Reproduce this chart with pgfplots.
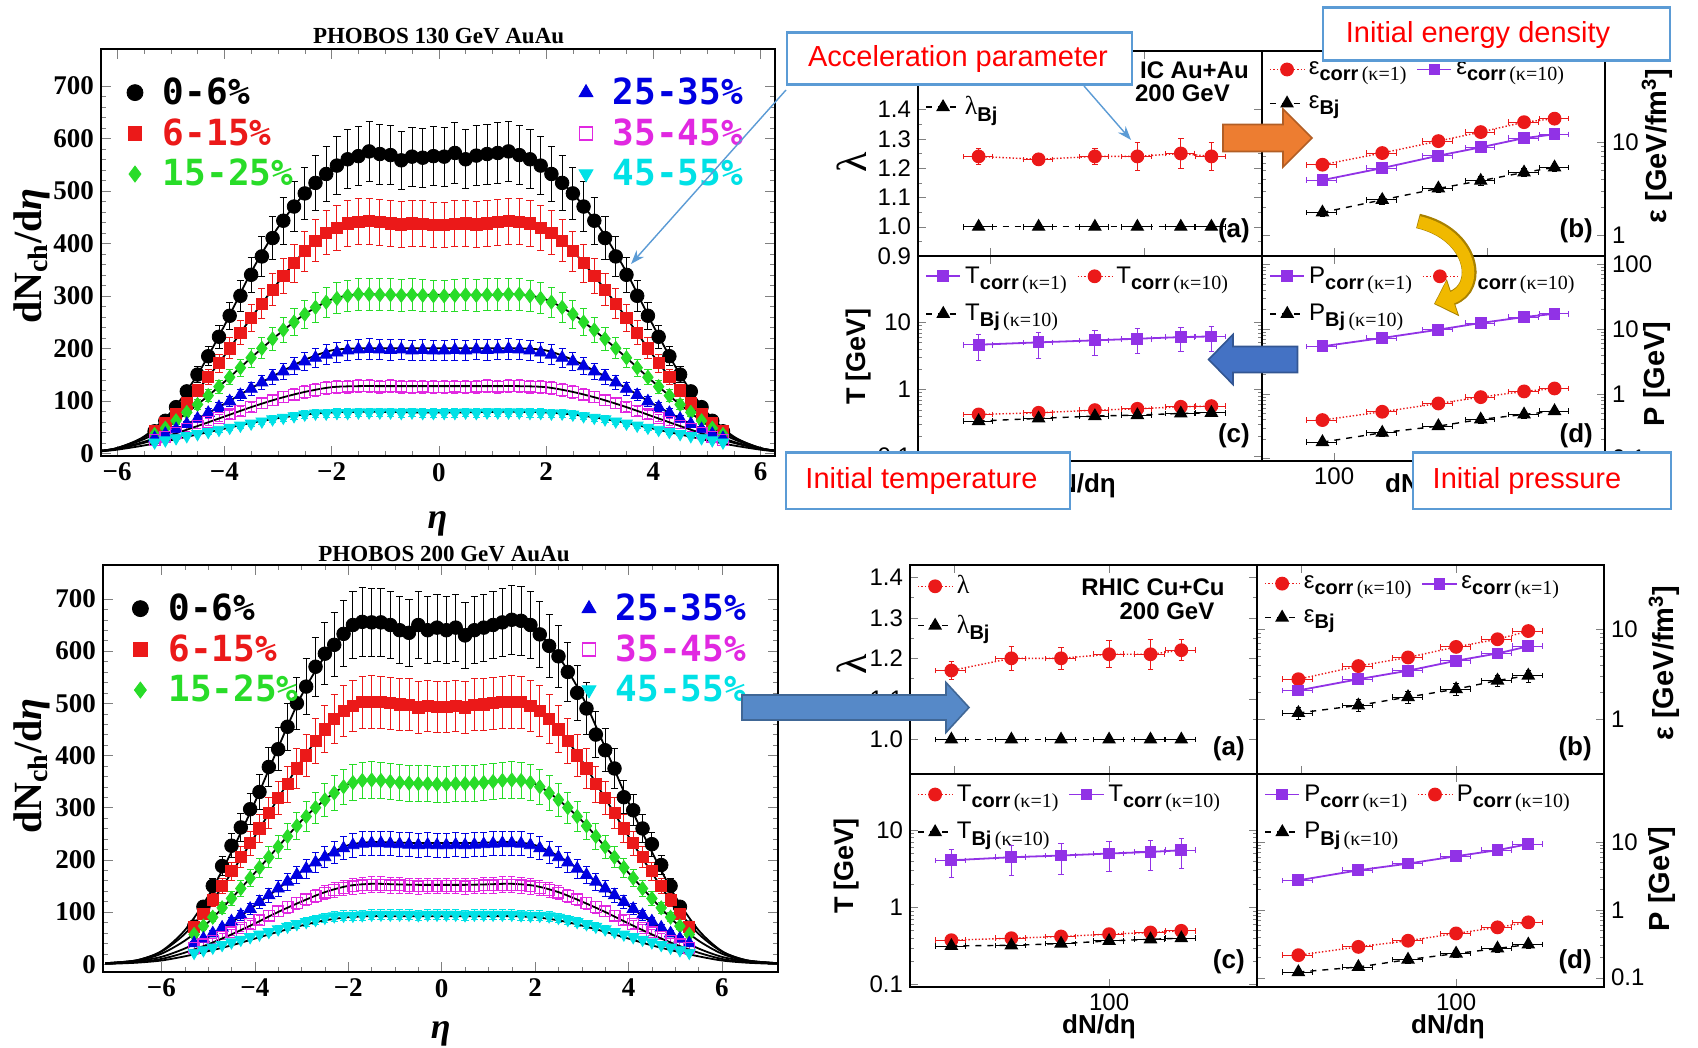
\documentclass[border=0pt]{standalone}
\usepackage{fontspec}
\setmainfont{Liberation Sans}
\newfontfamily\tnr{Liberation Serif}
\newfontfamily\mono{DejaVu Sans Mono}
\usepackage{pgfplots}
\usepackage{pgfplotstable}
\pgfplotsset{compat=1.18}
\usetikzlibrary{arrows.meta}

\definecolor{pur}{RGB}{145,50,230}
\definecolor{rd}{RGB}{235,25,25}
\definecolor{gr}{RGB}{40,220,40}
\definecolor{bl}{RGB}{0,0,225}
\definecolor{mg}{RGB}{225,40,225}
\definecolor{cy}{RGB}{0,225,230}
\definecolor{boxb}{RGB}{91,155,213}
\definecolor{orng}{RGB}{237,125,49}
\definecolor{gold}{RGB}{240,185,0}
\definecolor{arrb}{RGB}{68,114,196}
\definecolor{arrc}{RGB}{86,137,200}

\newcommand\lab[3]{#1\raisebox{-0.5ex}{\fontsize{10}{10}\selectfont\bfseries #2{\tnr\mdseries\,#3}}}

\pgfplotstableread{
eta c1 c2 c3 c4 c5 c6
-5.3 42 42 36 29 26 21
-5.1 62 58 48 37 32 25
-4.9 88 75 62 46 39 29
-4.7 118 95 78 56 46 33
-4.5 150 120 93 66 53 37
-4.3 185 145 110 77 60 41
-4.1 222 172 127 88 67 45
-3.9 262 200 145 99 74 49
-3.7 300 230 163 111 81 53
-3.5 340 258 182 123 88 57
-3.3 375 285 200 135 95 61
-3.1 410 312 218 146 101 65
-2.9 443 338 235 156 107 68
-2.7 470 362 250 166 112 71
-2.5 495 385 265 175 117 74
-2.3 515 405 278 182 121 76
-2.1 532 420 288 188 124 76
-1.9 548 430 295 192 126 77
-1.7 560 438 300 196 127 77
-1.5 566 441 303 198 128 78
-1.3 575 442 303 199 128 78
-1.1 570 440 302 198 127 78
-0.9 568 438 302 197 128 78
-0.7 558 436 301 198 127 77
-0.5 565 438 302 196 126 78
-0.3 563 437 301 197 127 77
-0.1 566 435 300 196 126 77
0.1 565 435 300 196 126 77
0.3 572 437 301 197 127 77
0.5 560 438 302 196 126 78
0.7 567 436 301 198 127 77
0.9 570 438 302 197 128 78
1.1 572 440 302 198 127 78
1.3 575 442 303 199 128 78
1.5 568 441 303 198 128 78
1.7 560 438 300 196 127 77
1.9 548 430 295 192 126 77
2.1 532 420 288 188 124 76
2.3 515 405 278 182 121 76
2.5 495 385 265 175 117 74
2.7 470 362 250 166 112 71
2.9 443 338 235 156 107 68
3.1 410 312 218 146 101 65
3.3 375 285 200 135 95 61
3.5 340 258 182 123 88 57
3.7 300 230 163 111 81 53
3.9 262 200 145 99 74 49
4.1 222 172 127 88 67 45
4.3 185 145 110 77 60 41
4.5 150 120 93 66 53 37
4.7 118 95 78 56 46 33
4.9 88 75 62 46 39 29
5.1 62 58 48 37 32 25
5.3 42 42 36 29 26 21
}\tA

\pgfplotstableread{
x f1 f2 f3 f4 f5 f6
-6.3 5 5 5 5 4 4
-6.0 10 10 10 9 8 7
-5.5 32 30 27 22 20 15
-5.0 78 66 55 41 35 25
-4.5 150 120 93 66 52 36
-4.0 243 186 136 94 70 47
-3.5 345 258 182 124 88 58
-3.0 430 325 226 152 104 67
-2.5 495 385 265 178 117 74
-2.0 540 425 293 196 126 78
-1.5 568 442 303 200 128 79
-1.0 570 440 302 200 128 79
-0.5 566 437 302 200 128 78
0 565 437 302 200 128 78
0.5 566 437 302 200 128 78
1.0 570 440 302 200 128 79
1.5 568 442 303 200 128 79
2.0 540 425 293 196 126 78
2.5 495 385 265 178 117 74
3.0 430 325 226 152 104 67
3.5 345 258 182 124 88 58
4.0 243 186 136 94 70 47
4.5 150 120 93 66 52 36
5.0 78 66 55 41 35 25
5.5 32 30 27 22 20 15
6.0 10 10 10 9 8 7
6.3 5 5 5 5 4 4
}\fA

\pgfplotstableread{
eta c1 c2 c3 c4 c5 c6
-5.3 72 72 57 40 31 22
-5.1 110 97 73 49 38 27
-4.9 150 123 90 59 45 32
-4.7 188 150 108 70 53 37
-4.5 227 178 126 82 61 42
-4.3 262 205 145 94 69 47
-4.1 297 232 165 106 77 52
-3.9 330 260 185 119 85 57
-3.7 378 290 205 132 93 62
-3.5 412 318 225 145 101 67
-3.3 455 345 245 158 109 72
-3.1 500 375 265 171 117 77
-2.9 532 400 283 183 124 81
-2.7 570 428 300 195 131 85
-2.5 595 450 315 205 137 89
-2.3 612 470 328 214 142 92
-2.1 633 485 340 222 146 93
-1.9 650 495 348 228 149 93
-1.7 656 502 352 231 151 94
-1.5 655 503 353 232 152 95
-1.3 655 502 352 232 152 95
-1.1 650 500 350 231 151 95
-0.9 640 498 348 230 151 95
-0.7 635 497 347 229 150 95
-0.5 650 492 346 228 149 94
-0.3 640 495 346 229 150 95
-0.1 645 493 345 228 150 95
0.1 640 493 345 228 150 95
0.3 645 495 346 229 150 95
0.5 630 492 346 228 149 94
0.7 640 497 347 229 150 95
0.9 645 498 348 230 151 95
1.1 650 500 350 231 151 95
1.3 655 502 352 232 152 95
1.5 660 503 353 232 152 95
1.7 658 502 352 231 151 94
1.9 650 495 348 228 149 93
2.1 632 485 340 222 146 93
2.3 610 470 328 214 142 92
2.5 590 450 315 205 137 89
2.7 560 428 300 195 131 85
2.9 520 400 283 183 124 81
3.1 490 375 265 171 117 77
3.3 440 345 245 158 109 72
3.5 410 318 225 145 101 67
3.7 375 290 205 132 93 62
3.9 320 260 185 119 85 57
4.1 295 232 165 106 77 52
4.3 260 205 145 94 69 47
4.5 230 178 126 82 61 42
4.7 190 150 108 70 53 37
4.9 150 123 90 59 45 32
5.1 110 97 73 49 38 27
5.3 70 72 57 40 31 22
}\tB

\pgfplotstableread{
x f1 f2 f3 f4 f5 f6
-7.2 2 2 2 1 1 1
-7.0 3 3 3 2 2 1
-6.5 8 8 7 6 4 3
-6.0 25 24 20 14 10 7
-5.5 65 58 45 30 22 15
-5.0 130 110 80 52 38 25
-4.5 215 175 126 80 57 36
-4.0 310 245 175 112 78 49
-3.5 415 318 225 145 100 62
-3.0 515 390 275 178 120 74
-2.5 590 450 315 207 138 84
-2.0 640 492 345 228 150 90
-1.5 658 505 353 234 154 92
-1.0 648 500 350 233 153 92
-0.5 642 494 345 232 152 92
0 640 495 345 232 152 92
0.5 642 494 345 232 152 92
1.0 648 500 350 233 153 92
1.5 658 505 353 234 154 92
2.0 640 492 345 228 150 90
2.5 590 450 315 207 138 84
3.0 515 390 275 178 120 74
3.5 415 318 225 145 100 62
4.0 310 245 175 112 78 49
4.5 215 175 126 80 57 36
5.0 130 110 80 52 38 25
5.5 65 58 45 30 22 15
6.0 25 24 20 14 10 7
6.5 8 8 7 6 4 3
7.0 3 3 3 2 2 1
7.2 2 2 2 1 1 1
}\fB

\pgfplotsset{
 eb/.style={/pgfplots/error bars/y dir=both, /pgfplots/error bars/y fixed relative=0.1,
   /pgfplots/error bars/error bar style={line width=0.45pt},
   /pgfplots/error bars/error mark options={rotate=90, mark size=1.8pt, line width=0.45pt}},
 lpanel/.style={scale only axis, width=337pt, height=203.5pt, tick align=inside, tick pos=both,
   axis line style={line width=1.1pt}, major tick length=5pt, minor tick length=2.5pt,
   ytick={0,100,...,700}, minor y tick num=4, xtick={-6,-4,...,6}, minor x tick num=3,
   xticklabels={−6,−4,−2,0,2,4,6},
   ticklabel style={font=\tnr\bfseries\fontsize{13.5}{13.5}\selectfont},
   /pgf/number format/assume math mode=true,
   legend style={draw=none, fill=none, font=\mono\bfseries\fontsize{18}{18}\selectfont, row sep=1.5pt, inner sep=1pt,
     /tikz/every odd column/.append style={column sep=8pt}},
   legend cell align=left},
 rpanel/.style={scale only axis, tick align=inside, tick pos=both,
   axis line style={line width=0.8pt}, major tick length=4pt, minor tick length=2pt,
   ticklabel style={font=\fontsize{12}{12}\selectfont},
   /pgf/number format/assume math mode=true,
   legend style={draw=none, fill=none, font=\fontsize{12}{12}\selectfont, at={(0.02,0.97)}, anchor=north west,
     row sep=5pt, inner sep=0pt, /tikz/every even column/.append style={column sep=3pt}},
   legend columns=2, legend cell align=left},
 redc/.style={rd, densely dotted, line width=0.7pt, mark=*, mark size=3.1pt, mark options={solid}},
 purs/.style={pur, solid, line width=0.9pt, mark=square*, mark size=2.5pt},
 blkt/.style={black, dashed, line width=0.7pt, mark=triangle*, mark size=3.3pt, mark options={solid}},
 ebx/.style={/pgfplots/error bars/x dir=both, /pgfplots/error bars/x fixed relative=0.11,
   /pgfplots/error bars/error bar style={line width=0.45pt, solid},
   /pgfplots/error bars/error mark options={rotate=90, mark size=1.4pt, line width=0.45pt, solid}},
 eby/.style={/pgfplots/error bars/y dir=both, /pgfplots/error bars/y fixed relative=#1},
 ebe/.style={/pgfplots/error bars/y dir=both, /pgfplots/error bars/y explicit},
}
\tikzset{ptag/.style={anchor=south east, font=\bfseries\fontsize{13}{13}\selectfont}}

\begin{document}
\begin{tikzpicture}
\useasboundingbox (0,0) rectangle (849pt,524pt);
\fill[white] (0,0) rectangle (849pt,524pt);

% ---------------- top-left: PHOBOS 130 GeV
\begin{axis}[lpanel, at={(50.5pt,296pt)}, anchor=south west, xmin=-6.3, xmax=6.27, ymin=-5, ymax=770,
  legend style={at={(0.035,0.945)}, anchor=north west}]
\addlegendimage{only marks, mark=*, mark size=4pt, black}\addlegendentry{\textcolor{black}{0-6\%}}
\addlegendimage{only marks, mark=square*, mark size=3.4pt, rd}\addlegendentry{\textcolor{rd}{6-15\%}}
\addlegendimage{only marks, mark=diamond*, mark size=4pt, gr}\addlegendentry{\textcolor{gr}{15-25\%}}
\addplot[forget plot, only marks, mark=*, mark size=3.4pt, black, eb] table[x=eta,y=c1]{\tA};
\addplot[forget plot, only marks, mark=square*, mark size=2.8pt, rd, eb] table[x=eta,y=c2]{\tA};
\addplot[forget plot, only marks, mark=diamond*, mark size=3.5pt, gr, eb] table[x=eta,y=c3]{\tA};
\addplot[forget plot, only marks, mark=triangle*, mark size=3.5pt, bl, eb] table[x=eta,y=c4]{\tA};
\addplot[forget plot, only marks, mark=square, mark size=2.7pt, mg, mark options={line width=0.6pt}, eb] table[x=eta,y=c5]{\tA};
\addplot[forget plot, only marks, mark=triangle*, mark size=3.4pt, cy, mark options={rotate=180}, eb] table[x=eta,y=c6]{\tA};
\addplot[forget plot, black, line width=0.9pt, smooth, no marks] table[x=x,y=f1]{\fA};
\addplot[forget plot, black, line width=0.9pt, smooth, no marks] table[x=x,y=f2]{\fA};
\addplot[forget plot, black, line width=0.9pt, smooth, no marks] table[x=x,y=f3]{\fA};
\addplot[forget plot, black, line width=0.9pt, smooth, no marks] table[x=x,y=f4]{\fA};
\addplot[forget plot, black, line width=0.9pt, smooth, no marks] table[x=x,y=f5]{\fA};
\addplot[forget plot, black, line width=0.9pt, smooth, no marks] table[x=x,y=f6]{\fA};
\end{axis}
\begin{axis}[lpanel, hide axis, at={(50.5pt,296pt)}, anchor=south west, xmin=-6.3, xmax=6.27, ymin=-5, ymax=770,
  legend style={at={(0.962,0.945)}, anchor=north east}]
\addlegendimage{only marks, mark=triangle*, mark size=4pt, bl}\addlegendentry{\textcolor{bl}{25-35\%}}
\addlegendimage{only marks, mark=square, mark size=3.3pt, mg, mark options={line width=0.8pt}}\addlegendentry{\textcolor{mg}{35-45\%}}
\addlegendimage{only marks, mark=triangle*, mark size=4pt, cy, mark options={rotate=180}}\addlegendentry{\textcolor{cy}{45-55\%}}
\end{axis}

% ---------------- bottom-left: PHOBOS 200 GeV
\begin{axis}[lpanel, at={(51.5pt,38pt)}, anchor=south west, width=337.5pt, xmin=-7.25, xmax=7.2, ymin=-15, ymax=765,
  legend style={at={(0.04,0.945)}, anchor=north west}]
\addlegendimage{only marks, mark=*, mark size=4pt, black}\addlegendentry{\textcolor{black}{0-6\%}}
\addlegendimage{only marks, mark=square*, mark size=3.4pt, rd}\addlegendentry{\textcolor{rd}{6-15\%}}
\addlegendimage{only marks, mark=diamond*, mark size=4pt, gr}\addlegendentry{\textcolor{gr}{15-25\%}}
\addplot[forget plot, only marks, mark=*, mark size=3.4pt, black, eb] table[x=eta,y=c1]{\tB};
\addplot[forget plot, only marks, mark=square*, mark size=2.8pt, rd, eb] table[x=eta,y=c2]{\tB};
\addplot[forget plot, only marks, mark=diamond*, mark size=3.5pt, gr, eb] table[x=eta,y=c3]{\tB};
\addplot[forget plot, only marks, mark=triangle*, mark size=3.5pt, bl, eb] table[x=eta,y=c4]{\tB};
\addplot[forget plot, only marks, mark=square, mark size=2.7pt, mg, mark options={line width=0.6pt}, eb] table[x=eta,y=c5]{\tB};
\addplot[forget plot, only marks, mark=triangle*, mark size=3.4pt, cy, mark options={rotate=180}, eb] table[x=eta,y=c6]{\tB};
\addplot[forget plot, black, line width=0.9pt, smooth, no marks] table[x=x,y=f1]{\fB};
\addplot[forget plot, black, line width=0.9pt, smooth, no marks] table[x=x,y=f2]{\fB};
\addplot[forget plot, black, line width=0.9pt, smooth, no marks] table[x=x,y=f3]{\fB};
\addplot[forget plot, black, line width=0.9pt, smooth, no marks] table[x=x,y=f4]{\fB};
\addplot[forget plot, black, line width=0.9pt, smooth, no marks] table[x=x,y=f5]{\fB};
\addplot[forget plot, black, line width=0.9pt, smooth, no marks] table[x=x,y=f6]{\fB};
\end{axis}
\begin{axis}[lpanel, hide axis, at={(51.5pt,38pt)}, anchor=south west, width=337.5pt, xmin=-7.25, xmax=7.2, ymin=-15, ymax=765,
  legend style={at={(0.962,0.945)}, anchor=north east}]
\addlegendimage{only marks, mark=triangle*, mark size=4pt, bl}\addlegendentry{\textcolor{bl}{25-35\%}}
\addlegendimage{only marks, mark=square, mark size=3.3pt, mg, mark options={line width=0.8pt}}\addlegendentry{\textcolor{mg}{35-45\%}}
\addlegendimage{only marks, mark=triangle*, mark size=4pt, cy, mark options={rotate=180}}\addlegendentry{\textcolor{cy}{45-55\%}}
\end{axis}

% ---------------- top group (Au+Au)
\begin{semilogxaxis}[rpanel, at={(459pt,396pt)}, anchor=south west, width=172pt, height=102.5pt,
  xmin=58.2, xmax=764, ymin=0.9, ymax=1.6, ytick={0.9,1,1.1,1.2,1.3,1.4}, minor y tick num=1,
  yticklabel style={/pgf/number format/.cd, fixed, fixed zerofill, precision=1},
  xticklabels={}, legend columns=1, legend style={at={(0.02,0.8)}}]
\addlegendimage{blkt}\addlegendentry{\lab{{\tnr\fontsize{13}{13}\selectfont λ}}{Bj}{}}
\addplot[redc, forget plot, ebx, ebe] coordinates {(91.6,1.24) +- (0,0.026) (143.5,1.23) +- (0,0.02) (218.7,1.24) +- (0,0.026) (300.5,1.24) +- (0,0.047) (416,1.25) +- (0,0.05) (523,1.24) +- (0,0.047)};
\addplot[blkt, forget plot, ebx] coordinates {(91.6,1.0) (143.5,1.0) (218.7,1.0) (300.5,1.0) (416,1.0) (523,1.0)};
\node[ptag] at (rel axis cs:0.985,0.03) {(a)};
\end{semilogxaxis}

\begin{loglogaxis}[rpanel, at={(631pt,396pt)}, anchor=south west, width=171.5pt, height=102.5pt,
  xmin=58.2, xmax=764, ymin=0.593, ymax=96.8, ytick={1,10}, yticklabels={1,10}, yticklabel pos=right, xticklabels={}]
\addlegendimage{redc}\addlegendentry{\lab{ε}{corr}{(κ=1)}}
\addlegendimage{purs}\addlegendentry{\lab{ε}{corr}{(κ=10)}}
\addlegendimage{blkt}\addlegendentry{\lab{ε}{Bj}{}}
\addplot[redc, forget plot, ebx, eby=0.1] coordinates {(91.6,5.73) (143.5,7.66) (218.7,10.3) (300.5,12.9) (416,16.5) (523,18.0)};
\addplot[purs, forget plot, ebx, eby=0.12] coordinates {(91.6,3.91) (143.5,5.27) (218.7,7.17) (300.5,8.83) (416,11.1) (523,12.2)};
\addplot[blkt, forget plot, ebx, eby=0.1] coordinates {(91.6,1.75) (143.5,2.39) (218.7,3.18) (300.5,3.85) (416,4.73) (523,5.36)};
\node[ptag] at (rel axis cs:0.985,0.03) {(b)};
\end{loglogaxis}

\begin{loglogaxis}[rpanel, at={(459pt,293.5pt)}, anchor=south west, width=172pt, height=102.5pt,
  xmin=58.2, xmax=764, ymin=0.086, ymax=98, ytick={0.1,1,10}, yticklabels={0.1,1,10}, xtick={100}, xticklabels={100}]
\addlegendimage{purs}\addlegendentry{\lab{T}{corr}{(κ=1)}}
\addlegendimage{redc}\addlegendentry{\lab{T}{corr}{(κ=10)}}
\addlegendimage{blkt}\addlegendentry{\lab{T}{Bj}{(κ=10)}}
\addplot[purs, forget plot, ebx, ebe] coordinates {(91.6,4.66) +- (0,1.9) (143.5,5.05) +- (0,2.1) (218.7,5.41) +- (0,2.2) (300.5,5.72) +- (0,2.3) (416,6.05) +- (0,2.4) (523,6.19) +- (0,2.5)};
\addplot[redc, forget plot, ebx, eby=0.08] coordinates {(91.6,0.425) (143.5,0.450) (218.7,0.493) (300.5,0.516) (416,0.553) (523,0.566)};
\addplot[blkt, forget plot, ebx, eby=0.06] coordinates {(91.6,0.339) (143.5,0.371) (218.7,0.402) (300.5,0.416) (416,0.440) (523,0.450)};
\node[ptag] at (rel axis cs:0.985,0.03) {(c)};
\end{loglogaxis}

\begin{loglogaxis}[rpanel, at={(631pt,293.5pt)}, anchor=south west, width=171.5pt, height=102.5pt,
  xmin=58.2, xmax=764, ymin=0.092, ymax=134, ytick={0.1,1,10,100}, yticklabels={0.1,1,10,100}, yticklabel pos=right, xtick={100}, xticklabels={100}]
\addlegendimage{purs}\addlegendentry{\lab{P}{corr}{(κ=1)}}
\addlegendimage{redc}\addlegendentry{\lab{P}{corr}{(κ=10)}}
\addlegendimage{blkt}\addlegendentry{\lab{P}{Bj}{(κ=10)}}
\addplot[purs, forget plot, ebx, eby=0.08] coordinates {(91.6,5.41) (143.5,7.27) (218.7,9.77) (300.5,12.4) (416,15.3) (523,17.2)};
\addplot[redc, forget plot, ebx, eby=0.08] coordinates {(91.6,0.394) (143.5,0.529) (218.7,0.710) (300.5,0.889) (416,1.09) (523,1.21)};
\addplot[blkt, forget plot, ebx, eby=0.12] coordinates {(91.6,0.180) (143.5,0.251) (218.7,0.318) (300.5,0.403) (416,0.481) (523,0.541)};
\node[ptag] at (rel axis cs:0.985,0.03) {(d)};
\end{loglogaxis}

% ---------------- bottom group (Cu+Cu)
\begin{semilogxaxis}[rpanel, at={(455pt,137pt)}, anchor=south west, width=173.5pt, height=104.5pt,
  xmin=22.8, xmax=300, ymin=0.915, ymax=1.43, ytick={1,1.1,1.2,1.3,1.4}, minor y tick num=1,
  yticklabel style={/pgf/number format/.cd, fixed, fixed zerofill, precision=1},
  xticklabels={}, legend columns=1]
\addlegendimage{redc}\addlegendentry{{\tnr\fontsize{13}{13}\selectfont λ}}
\addlegendimage{blkt}\addlegendentry{\lab{{\tnr\fontsize{13}{13}\selectfont λ}}{Bj}{}}
\addplot[redc, forget plot, ebx, ebe] coordinates {(31,1.17) +- (0,0.022) (48.4,1.20) +- (0,0.03) (70,1.20) +- (0,0.027) (100,1.21) +- (0,0.033) (136,1.21) +- (0,0.037) (171,1.22) +- (0,0.026)};
\addplot[blkt, forget plot, ebx] coordinates {(31,1.0) (48.4,1.0) (70,1.0) (100,1.0) (136,1.0) (171,1.0)};
\node[ptag] at (rel axis cs:0.985,0.03) {(a)};
\end{semilogxaxis}

\begin{loglogaxis}[rpanel, at={(628.5pt,137pt)}, anchor=south west, width=173.5pt, height=104.5pt,
  xmin=22.8, xmax=300, ymin=0.251, ymax=50.4, ytick={1,10}, yticklabels={1,10}, yticklabel pos=right, xticklabels={}]
\addlegendimage{redc}\addlegendentry{\lab{ε}{corr}{(κ=10)}}
\addlegendimage{purs}\addlegendentry{\lab{ε}{corr}{(κ=1)}}
\addlegendimage{blkt}\addlegendentry{\lab{ε}{Bj}{}}
\addplot[redc, forget plot, ebx, eby=0.1] coordinates {(31,2.78) (48.4,3.88) (70,4.83) (100,6.31) (136,7.66) (171,9.43)};
\addplot[purs, forget plot, ebx, eby=0.12] coordinates {(31,2.09) (48.4,2.78) (70,3.45) (100,4.44) (136,5.34) (171,6.41)};
\addplot[blkt, forget plot, ebx, eby=0.15] coordinates {(31,1.18) (48.4,1.43) (70,1.77) (100,2.16) (136,2.69) (171,3.05)};
\node[ptag] at (rel axis cs:0.985,0.03) {(b)};
\end{loglogaxis}

\begin{loglogaxis}[rpanel, at={(455pt,30.5pt)}, anchor=south west, width=173.5pt, height=106.5pt,
  xmin=22.8, xmax=300, ymin=0.093, ymax=53.2, ytick={0.1,1,10}, yticklabels={0.1,1,10}, xtick={100}, xticklabels={100}]
\addlegendimage{redc}\addlegendentry{\lab{T}{corr}{(κ=1)}}
\addlegendimage{purs}\addlegendentry{\lab{T}{corr}{(κ=10)}}
\addlegendimage{blkt}\addlegendentry{\lab{T}{Bj}{(κ=10)}}
\addplot[purs, forget plot, ebx, ebe] coordinates {(31,4.06) +- (0,1.6) (48.4,4.45) +- (0,1.9) (70,4.68) +- (0,2.0) (100,4.97) +- (0,2.1) (136,5.21) +- (0,2.2) (171,5.48) +- (0,2.3)};
\addplot[redc, forget plot, ebx, eby=0.08] coordinates {(31,0.375) (48.4,0.398) (70,0.419) (100,0.449) (136,0.472) (171,0.496)};
\addplot[blkt, forget plot, ebx, eby=0.06] coordinates {(31,0.316) (48.4,0.322) (70,0.339) (100,0.367) (136,0.386) (171,0.398)};
\node[ptag] at (rel axis cs:0.985,0.03) {(c)};
\end{loglogaxis}

\begin{loglogaxis}[rpanel, at={(628.5pt,30.5pt)}, anchor=south west, width=173.5pt, height=106.5pt,
  xmin=22.8, xmax=300, ymin=0.073, ymax=101, ytick={0.1,1,10}, yticklabels={0.1,1,10}, yticklabel pos=right, xtick={100}, xticklabels={100}]
\addlegendimage{purs}\addlegendentry{\lab{P}{corr}{(κ=1)}}
\addlegendimage{redc}\addlegendentry{\lab{P}{corr}{(κ=10)}}
\addlegendimage{blkt}\addlegendentry{\lab{P}{Bj}{(κ=10)}}
\addplot[purs, forget plot, ebx, eby=0.08] coordinates {(31,2.73) (48.4,3.84) (70,4.82) (100,6.19) (136,7.61) (171,9.33)};
\addplot[redc, forget plot, ebx, eby=0.08] coordinates {(31,0.215) (48.4,0.285) (70,0.351) (100,0.450) (136,0.553) (171,0.656)};
\addplot[blkt, forget plot, ebx, eby=0.12] coordinates {(31,0.121) (48.4,0.144) (70,0.185) (100,0.227) (136,0.270) (171,0.309)};
\node[ptag] at (rel axis cs:0.985,0.03) {(d)};
\end{loglogaxis}

% ---------------- labels and annotations (coordinates in reference pixels)
\begin{scope}[x=0.5pt, y=-0.5pt, yshift=524pt]
\node[font=\tnr\bfseries\fontsize{11.5}{11.5}\selectfont] at (438.6,35.7) {PHOBOS 130 GeV AuAu};
\node[font=\tnr\bfseries\fontsize{11.5}{11.5}\selectfont] at (444,554.4) {PHOBOS 200 GeV AuAu};
\node[rotate=90, font=\tnr\bfseries\fontsize{20}{20}\selectfont] at (32,256) {dN\textsubscript{ch}/d\textit{η}};
\node[rotate=90, font=\tnr\bfseries\fontsize{20}{20}\selectfont] at (32,766) {dN\textsubscript{ch}/d\textit{η}};
\node[font=\tnr\bfseries\itshape\fontsize{18}{18}\selectfont] at (437.5,524) {η};
\node[font=\tnr\bfseries\itshape\fontsize{18}{18}\selectfont] at (440.7,1034) {η};

\node[rotate=90, font=\tnr\fontsize{21}{21}\selectfont] at (852,162) {λ};
\node[rotate=90, font=\tnr\fontsize{21}{21}\selectfont] at (852,664) {λ};
\node[rotate=90, font=\bfseries\fontsize{13.5}{13.5}\selectfont] at (859,357) {T [GeV]};
\node[rotate=90, font=\bfseries\fontsize{13.5}{13.5}\selectfont] at (847,866) {T [GeV]};
\node[rotate=90, font=\bfseries\fontsize{14.5}{14.5}\selectfont] at (1657,146) {ε [GeV/fm\textsuperscript{3}]};
\node[rotate=90, font=\bfseries\fontsize{14.5}{14.5}\selectfont] at (1664,663) {ε [GeV/fm\textsuperscript{3}]};
\node[rotate=90, font=\bfseries\fontsize{14.5}{14.5}\selectfont] at (1657,374) {P [GeV]};
\node[rotate=90, font=\bfseries\fontsize{14.5}{14.5}\selectfont] at (1662,879) {P [GeV]};
\node[font=\bfseries\fontsize{13}{13}\selectfont] at (1079,486) {dN/dη};
\node[font=\bfseries\fontsize{13}{13}\selectfont] at (1422,486) {dN/dη};
\node[font=\bfseries\fontsize{13}{13}\selectfont] at (1099,1027) {dN/dη};
\node[font=\bfseries\fontsize{13}{13}\selectfont] at (1448,1027) {dN/dη};
\node[anchor=west, font=\bfseries\fontsize{12}{12}\selectfont] at (1133,70) {IC Au+Au};
\node[font=\bfseries\fontsize{12}{12}\selectfont] at (1182.5,93) {200 GeV};
\node[font=\bfseries\fontsize{12}{12}\selectfont] at (1153,587) {RHIC Cu+Cu};
\node[font=\bfseries\fontsize{12}{12}\selectfont] at (1167,611) {200 GeV};

% block arrows
\filldraw[fill=orng, draw=orng!75!black, line width=0.8pt] (1223,124.5) -- (1283,124.5) -- (1283,109) -- (1312,138) -- (1283,167) -- (1283,151.5) -- (1223,151.5) -- cycle;
\filldraw[fill=arrb, draw=arrb!75!black, line width=0.8pt] (1297.5,346.5) -- (1233,346.5) -- (1233,334.5) -- (1208.6,359.5) -- (1233,384.5) -- (1233,372.5) -- (1297.5,372.5) -- cycle;
\filldraw[fill=arrc, draw=arrc!75!black, line width=0.8pt] (742,695) -- (946,695) -- (946,682.5) -- (969,707.5) -- (946,732.5) -- (946,720) -- (742,720) -- cycle;
\draw[line width=7.4pt, draw=gold!70!black, -{Triangle[length=10pt,width=19pt]}] (1418,221) .. controls (1474,234) and (1482,288) .. (1434,304);
\draw[line width=6pt, draw=gold, -{Triangle[length=9pt,width=17pt]}] (1418.5,222) .. controls (1473,235) and (1481,288) .. (1435,303.5);

% thin pointer lines
\draw[boxb, line width=0.7pt, -{Stealth[length=7pt,width=5pt]}] (786,90) -- (631,264);
\draw[boxb, line width=0.7pt, -{Stealth[length=7pt,width=5pt]}] (1084,86) -- (1131,140);

% boxes
\draw[boxb, line width=1.3pt, fill=white] (787,32.5) rectangle (1132,84.5);
\node[text=red, font=\fontsize{14.5}{15}\selectfont] at (958,59) {Acceleration parameter};
\draw[boxb, line width=1.3pt, fill=white] (1323,7.6) rectangle (1670,60.6);
\node[text=red, font=\fontsize{14.5}{15}\selectfont] at (1478,35) {Initial energy density};
\draw[boxb, line width=1.3pt, fill=white] (786,452.6) rectangle (1070,509);
\node[text=red, font=\fontsize{14.5}{15}\selectfont] at (921.5,481) {Initial temperature};
\draw[boxb, line width=1.3pt, fill=white] (1413,452.6) rectangle (1671,509);
\node[text=red, font=\fontsize{14.5}{15}\selectfont] at (1527,481) {Initial pressure};
\end{scope}
\end{tikzpicture}
\end{document}
